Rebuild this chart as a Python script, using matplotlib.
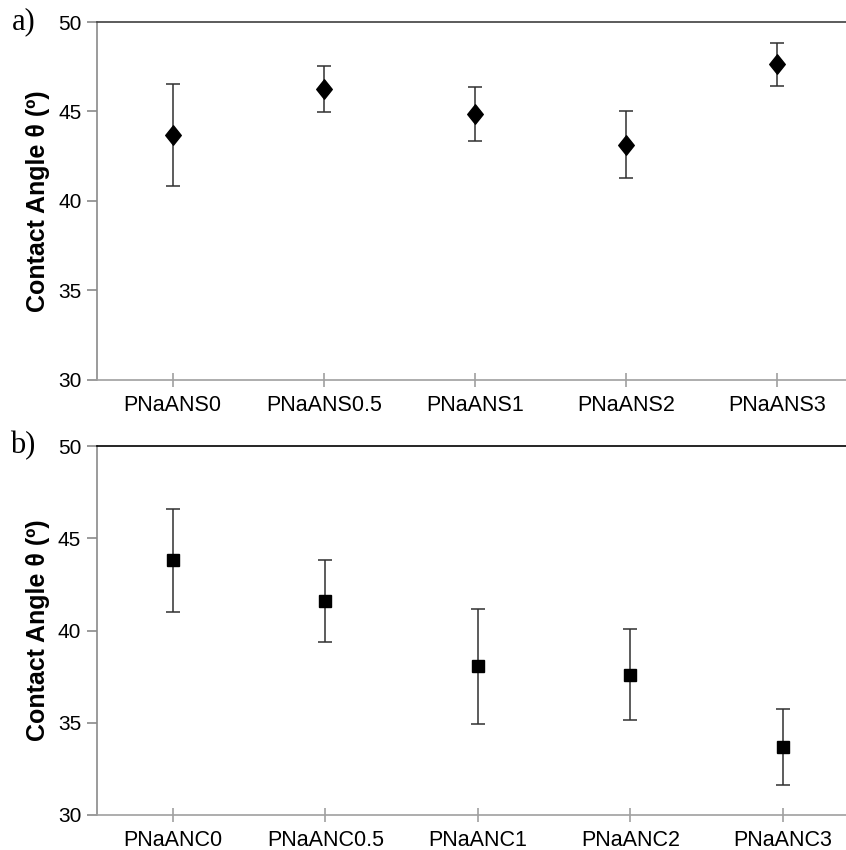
import matplotlib
matplotlib.use("Agg")
import matplotlib.pyplot as plt
from matplotlib.path import Path

cats_s = ["PNaANS0", "PNaANS0.5", "PNaANS1", "PNaANS2", "PNaANS3"]
vals_s = [43.7, 46.25, 44.85, 43.15, 47.65]
err_s = [2.85, 1.3, 1.5, 1.85, 1.2]

cats_c = ["PNaANC0", "PNaANC0.5", "PNaANC1", "PNaANC2", "PNaANC3"]
vals_c = [43.8, 41.6, 38.05, 37.6, 33.7]
err_c = [2.8, 2.2, 3.1, 2.47, 2.07]

yticks = [30, 35, 40, 45, 50]
ylabel = "Contact Angle θ (º)"

plt.rcParams['font.family'] = ['Liberation Sans', 'DejaVu Sans']

W, H = 846, 850
fig = plt.figure(figsize=(W / 100, H / 100), dpi=100)

diamond = Path([(0, 1), (0.8, 0), (0, -1), (-0.8, 0), (0, 1)],
               [Path.MOVETO, Path.LINETO, Path.LINETO, Path.LINETO, Path.CLOSEPOLY])

def make_ax(px_left, px_top, px_bottom, px_right):
    return fig.add_axes([px_left / W, 1 - px_bottom / H,
                         (px_right - px_left) / W, (px_bottom - px_top) / H])

ax1 = make_ax(97, 22, 380, 853)
ax2 = make_ax(96.5, 446, 815, 859)

def style(ax, cats, vals, errs, marker, ms, topcolor, label):
    x = list(range(len(cats)))
    ax.errorbar(x, vals, yerr=errs, fmt='none',
                ecolor='#303030', elinewidth=1.1, capsize=5, capthick=1.1,
                zorder=3)
    ax.plot(x, vals, linestyle='none', marker=marker, color='black',
            ms=ms, zorder=4)
    ax.set_xlim(-0.5, len(cats) - 0.5)
    ax.set_ylim(30, 50)
    ax.set_yticks(yticks)
    ax.set_xticks(x)
    ax.set_xticklabels(cats)
    ax.spines['right'].set_visible(False)
    ax.spines['left'].set_color('#8a8a8a')
    ax.spines['bottom'].set_color('#a0a0a0')
    ax.spines['top'].set_color(topcolor)
    for s in ['left', 'bottom', 'top']:
        ax.spines[s].set_linewidth(1.2)
    ax.tick_params(axis='y', direction='out', length=7, color='#8a8a8a',
                   labelsize=15, pad=4, width=1.2)
    ax.tick_params(axis='x', direction='inout', length=10, color='#a0a0a0',
                   labelsize=15.5, pad=6, width=1.2)
    ax.set_ylabel(ylabel, fontsize=18, fontweight='bold', labelpad=6)
    ax.text(-0.097, 1.0, label, transform=ax.transAxes, fontsize=22,
            family='Liberation Serif', ha='center', va='center')

style(ax1, cats_s, vals_s, err_s, diamond, 14, '#404040', 'a)')
style(ax2, cats_c, vals_c, err_c, 's', 8.5, '#000000', 'b)')

fig.savefig("out.png", dpi=100)
